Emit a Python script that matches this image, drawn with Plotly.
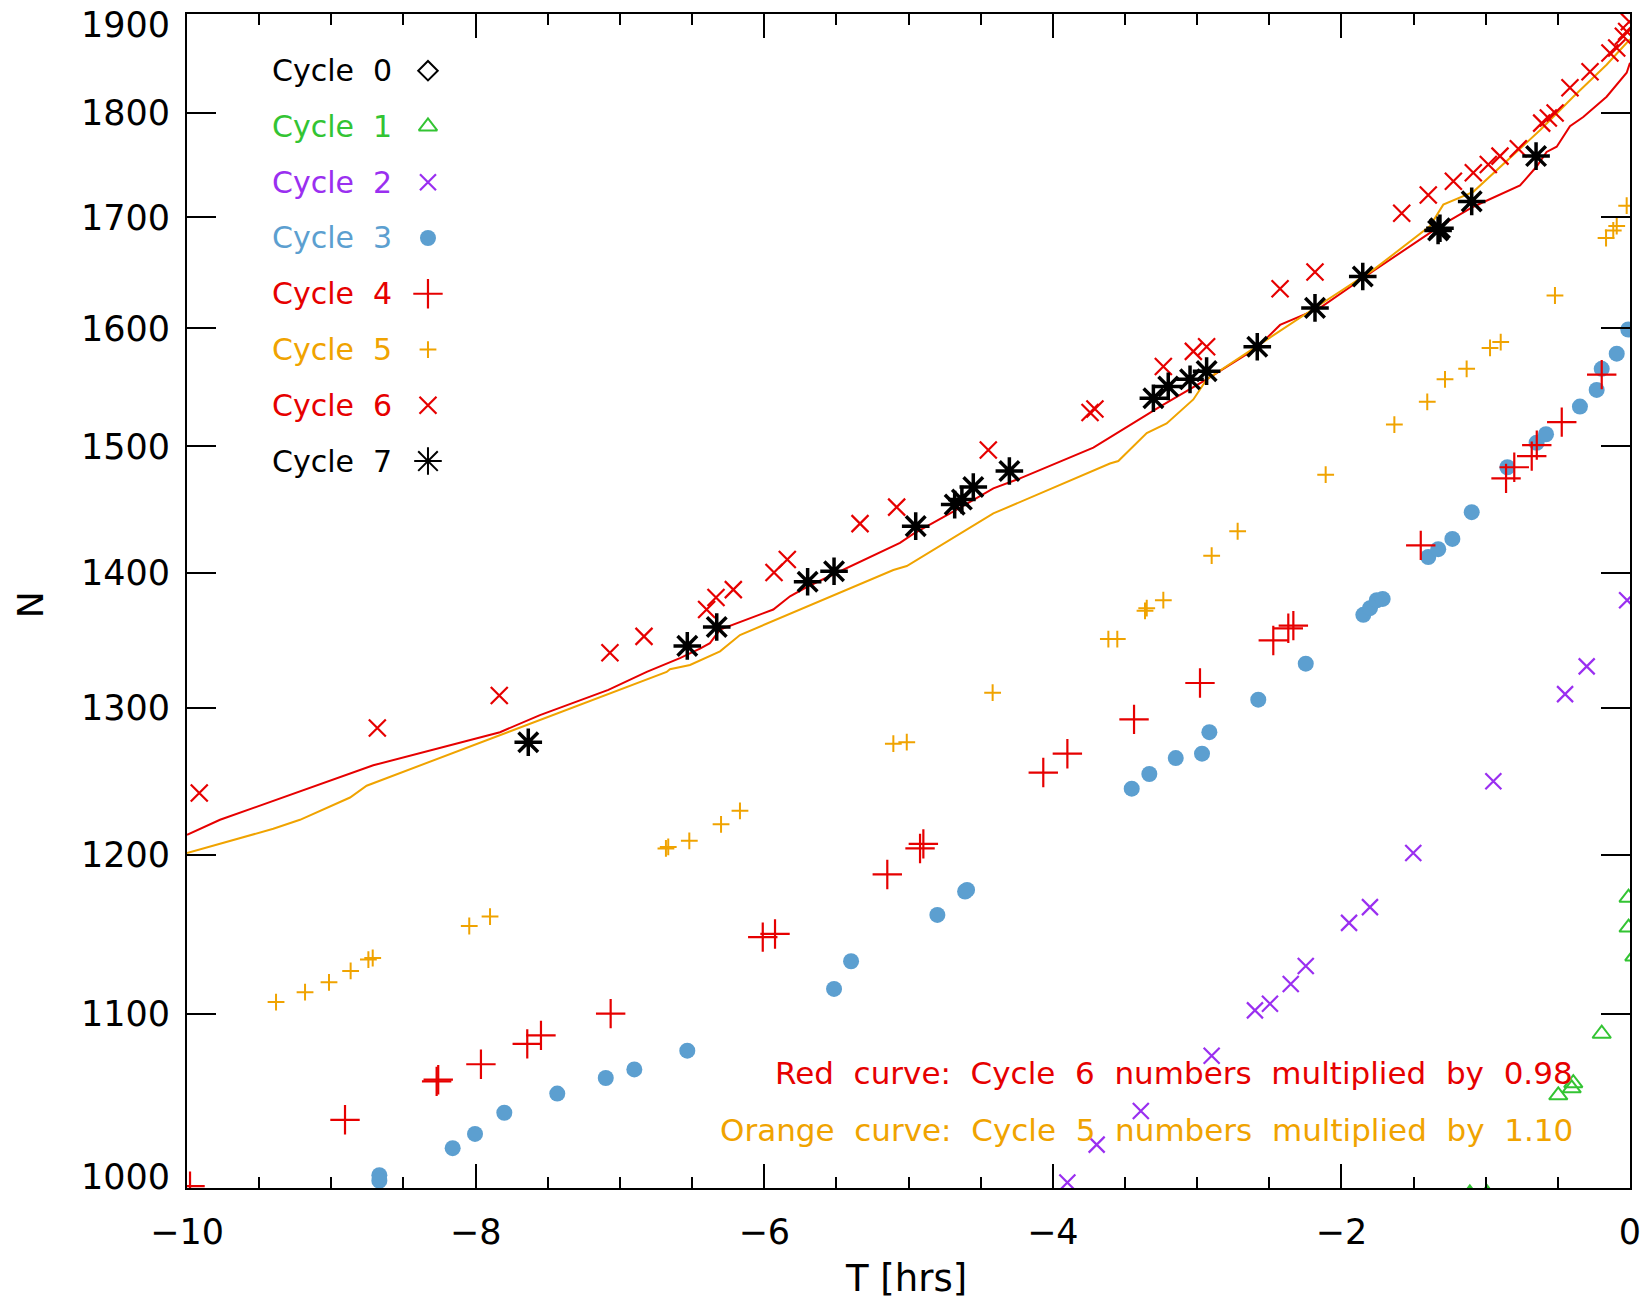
import plotly.graph_objects as go

# ---------------- data (T in hours, N) ----------------
cycle0_T = []
cycle0_N = []

cycle1_T = [-1.11, -0.99, -0.497, -0.404, -0.393, -0.196, -0.01, -0.01, 0.03]
cycle1_N = [997, 997, 1052, 1056, 1059, 1088, 1153, 1172, 1135]

cycle2_T = [-3.899, -3.696, -3.390, -2.899, -2.599, -2.495, -2.351, -2.247, -1.947,
            -1.802, -1.502, -0.947, -0.450, -0.300, -0.02]
cycle2_N = [1003, 1024, 1043, 1075, 1102, 1106, 1118, 1129, 1156,
            1166, 1201, 1249, 1310, 1330, 1379]

cycle3_T = [-8.667, -8.667, -8.159, -8.004, -7.801, -7.434, -7.098, -6.900, -6.533,
            -5.516, -5.398, -4.800, -4.608, -4.594, -3.453, -3.331, -3.148, -2.966,
            -2.915, -2.576, -2.247, -1.848, -1.802, -1.755, -1.714, -1.398, -1.329,
            -1.231, -1.097, -0.850, -0.647, -0.582, -0.347, -0.231, -0.196, -0.092, -0.012]
cycle3_N = [1007, 1004, 1022, 1030, 1042, 1053, 1062, 1067, 1078,
            1115, 1132, 1161, 1176, 1177, 1244, 1254, 1265, 1268,
            1283, 1306, 1332, 1368, 1373, 1379, 1380, 1412, 1418,
            1426, 1447, 1483, 1503, 1510, 1533, 1547, 1565, 1578, 1599]

cycle4_T = [-9.979, -8.905, -8.270, -8.259, -7.963, -7.642, -7.547, -7.064, -6.010,
            -5.925, -5.147, -4.920, -4.897, -4.066, -3.899, -3.437, -2.980, -2.472,
            -2.368, -2.333, -1.450, -0.859, -0.802, -0.681, -0.646, -0.473, -0.196]
cycle4_N = [1001, 1038, 1060, 1061, 1070, 1082, 1087, 1100, 1147,
            1149, 1187, 1204, 1207, 1255, 1268, 1292, 1318, 1349,
            1358, 1360, 1421, 1474, 1483, 1492, 1501, 1520, 1560]

cycle5_T = [-9.383, -9.182, -9.016, -8.866, -8.743, -8.713, -8.044, -7.900, -6.681,
            -6.665, -6.519, -6.299, -6.168, -5.105, -5.012, -4.417, -3.615, -3.553,
            -3.361, -3.349, -3.234, -2.899, -2.719, -2.109, -1.633, -1.405, -1.282,
            -1.132, -0.970, -0.896, -0.520, -0.166, -0.116, -0.092, -0.023]
cycle5_N = [1107, 1113, 1119, 1126, 1133, 1134, 1154, 1160, 1204,
            1205, 1209, 1220, 1229, 1275, 1276, 1311, 1350, 1350,
            1371, 1373, 1379, 1413, 1432, 1477, 1518, 1537, 1556,
            1565, 1583, 1588, 1629, 1681, 1688, 1692, 1711]

cycle6_T = [-9.915, -8.681, -7.836, -7.069, -6.833, -6.399, -6.334, -6.214, -5.932,
            -5.840, -5.336, -5.082, -4.447, -3.742, -3.708, -3.234, -3.026, -2.934,
            -2.425, -2.183, -1.582, -1.398, -1.224, -1.086, -0.982, -0.901, -0.774,
            -0.612, -0.566, -0.519, -0.416, -0.277, -0.139, -0.092, -0.046, -0.023, -0.005]
cycle6_N = [1241, 1286, 1309, 1340, 1352, 1372, 1381, 1387, 1400,
            1410, 1438, 1451, 1497, 1528, 1531, 1567, 1580, 1584,
            1635, 1650, 1704, 1721, 1734, 1742, 1750, 1758, 1765,
            1790, 1795, 1800, 1825, 1841, 1860, 1865, 1877, 1882, 1892]

cycle7_T = [-7.635, -6.533, -6.329, -5.699, -5.516, -4.950, -4.680, -4.630, -4.551,
            -4.301, -3.303, -3.200, -3.049, -2.934, -2.583, -2.183, -1.852, -1.330,
            -1.317, -1.097, -0.651]
cycle7_N = [1276, 1345, 1359, 1393, 1401, 1436, 1453, 1457, 1467,
            1480, 1540, 1550, 1556, 1563, 1584, 1618, 1646, 1688,
            1690, 1715, 1758]

red_curve_T = [-10.0, -9.771, -8.709, -7.831, -7.554, -7.080, -6.814, -6.584, -6.445,
               -6.376, -6.306, -5.937, -5.821, -5.705, -5.059, -4.967, -4.712, -4.412,
               -4.227, -3.719, -3.257, -2.934, -2.587, -2.425, -2.148, -1.779, -1.317,
               -1.086, -0.762, -0.647, -0.578, -0.508, -0.416, -0.324, -0.162, -0.023, 0.0]
red_curve_N = [1213, 1223, 1260, 1283, 1295, 1313, 1326, 1336, 1343,
               1347, 1357, 1372, 1382, 1389, 1423, 1430, 1446, 1466,
               1474, 1499, 1533, 1556, 1583, 1603, 1618, 1651, 1692,
               1710, 1730, 1748, 1762, 1767, 1787, 1796, 1816, 1840, 1850]

orange_curve_T = [-10.0, -9.402, -9.217, -8.870, -8.755, -7.046, -6.676, -6.653, -6.514,
                  -6.306, -6.168, -5.105, -5.012, -4.412, -3.604, -3.546, -3.349, -3.211,
                  -3.026, -2.934, -2.587, -2.171, -1.779, -1.386, -1.294, -1.178, -1.086,
                  -0.624, -0.393, -0.162, 0.0]
orange_curve_N = [1201, 1217, 1223, 1238, 1246, 1311, 1326, 1328, 1331,
                  1341, 1353, 1402, 1405, 1446, 1486, 1488, 1511, 1519,
                  1539, 1556, 1584, 1619, 1652, 1692, 1712, 1719, 1724,
                  1783, 1816, 1848, 1874]

legend_labels = ["Cycle 0", "Cycle 1", "Cycle 2", "Cycle 3",
                 "Cycle 4", "Cycle 5", "Cycle 6", "Cycle 7"]
y_tick_vals = [1000, 1100, 1200, 1300, 1400, 1500, 1600, 1700, 1800, 1900]
y_tick_text = ["1000", "1100", "1200", "1300", "1400", "1500", "1600", "1700", "1800", "1900"]
note_red = "Red curve: Cycle 6 numbers multiplied by 0.98"
note_orange = "Orange curve: Cycle 5 numbers multiplied by 1.10"

# ---------------- styles ----------------
RED = "#e60000"
ORANGE = "#f0a300"
BLUE = "#5c9fd0"
GREEN = "#33c433"
PURPLE = "#9a2ff0"
BLACK = "#000000"
FONT = "DejaVu Sans"
WIDE = "\u00a0\u00a0"  # wide word gap, as in the original lettering


def wide(s):
    return s.replace(" ", WIDE)


styles = [
    dict(symbol="diamond-open", size=15, color=BLACK, lw=2),
    dict(symbol="triangle-up-open", size=16, color=GREEN, lw=2),
    dict(symbol="x-thin-open", size=16, color=PURPLE, lw=2.2),
    dict(symbol="circle", size=16, color=BLUE, lw=0),
    dict(symbol="cross-thin-open", size=21, color=RED, lw=2.2),
    dict(symbol="cross-thin-open", size=12, color=ORANGE, lw=2),
    dict(symbol="x-thin-open", size=17, color=RED, lw=2.2),
    dict(symbol="asterisk-open", size=23, color=BLACK, lw=3.5),
]
series = [(cycle0_T, cycle0_N), (cycle1_T, cycle1_N), (cycle2_T, cycle2_N),
          (cycle3_T, cycle3_N), (cycle4_T, cycle4_N), (cycle5_T, cycle5_N),
          (cycle6_T, cycle6_N), (cycle7_T, cycle7_N)]


def marker_of(st, lw=None):
    w = st["lw"] if lw is None else lw
    return dict(symbol=st["symbol"], size=st["size"], color=st["color"],
                line=dict(width=w, color=st["color"]))


fig = go.Figure()

# curves
fig.add_trace(go.Scatter(x=red_curve_T, y=red_curve_N, mode="lines",
                         line=dict(color=RED, width=2), showlegend=False, hoverinfo="skip"))
fig.add_trace(go.Scatter(x=orange_curve_T, y=orange_curve_N, mode="lines",
                         line=dict(color=ORANGE, width=2), showlegend=False, hoverinfo="skip"))

# data points
for (tx, ny), st, name in zip(series, styles, legend_labels):
    fig.add_trace(go.Scatter(x=tx, y=ny, mode="markers", name=name,
                             marker=marker_of(st), showlegend=False))

# custom legend: text then symbol (on an invisible 0..1 overlay axis)
leg_x_text = 0.0575
leg_x_sym = 0.167
leg_y0 = 0.9517
leg_dy = 0.0475
annotations = []
for i, (name, st) in enumerate(zip(legend_labels, styles)):
    yy = leg_y0 - i * leg_dy
    annotations.append(dict(x=leg_x_text, y=yy, xref="paper", yref="paper",
                            text=wide(name), showarrow=False, xanchor="left", yanchor="middle",
                            font=dict(family=FONT, size=30, color=st["color"])))
    lw = 2 if st["symbol"] == "asterisk-open" else None
    fig.add_trace(go.Scatter(x=[leg_x_sym], y=[yy], mode="markers", xaxis="x2", yaxis="y2",
                             marker=marker_of(st, lw), showlegend=False, hoverinfo="skip"))

# edge y tick labels are nudged inside the axis span (as in the original)
y_text_axis = [""] + y_tick_text[1:-1] + [""]
annotations.append(dict(x=-0.0105, y=0.0094, xref="paper", yref="paper", text=y_tick_text[0],
                        showarrow=False, xanchor="right", yanchor="middle",
                        font=dict(family=FONT, size=35, color=BLACK)))
annotations.append(dict(x=-0.0105, y=0.9906, xref="paper", yref="paper", text=y_tick_text[-1],
                        showarrow=False, xanchor="right", yanchor="middle",
                        font=dict(family=FONT, size=35, color=BLACK)))

# notes
annotations.append(dict(x=0.962, y=0.098, xref="paper", yref="paper", text=wide(note_red),
                        showarrow=False, xanchor="right", yanchor="middle",
                        font=dict(family=FONT, size=31, color=RED)))
annotations.append(dict(x=0.962, y=0.0494, xref="paper", yref="paper", text=wide(note_orange),
                        showarrow=False, xanchor="right", yanchor="middle",
                        font=dict(family=FONT, size=31, color=ORANGE)))
# axis titles
annotations.append(dict(x=0.498, y=-0.0767, xref="paper", yref="paper", text="T [hrs]",
                        showarrow=False, xanchor="center", yanchor="middle",
                        font=dict(family=FONT, size=37, color=BLACK)))
annotations.append(dict(x=-0.108, y=0.4966, xref="paper", yref="paper", text="N",
                        showarrow=False, xanchor="center", yanchor="middle", textangle=-90,
                        font=dict(family=FONT, size=36, color=BLACK)))

fig.update_layout(
    width=1642, height=1300,
    margin=dict(l=187, r=12, t=14, b=112, pad=0, autoexpand=False),
    paper_bgcolor="white", plot_bgcolor="white",
    showlegend=False,
    font=dict(family=FONT, size=35, color=BLACK),
    annotations=annotations,
    xaxis=dict(range=[-10, 0], dtick=2, tick0=0, ticks="inside", ticklen=24, tickwidth=2,
               tickcolor=BLACK, showline=True, linewidth=2, linecolor=BLACK, mirror="ticks",
               showgrid=False, zeroline=False, ticklabelstandoff=12, ticklabeloverflow="allow",
               automargin=False,
               tickfont=dict(family=FONT, size=35, color=BLACK),
               minor=dict(dtick=0.5, ticks="inside", ticklen=11, tickwidth=2,
                          tickcolor=BLACK, showgrid=False)),
    yaxis=dict(type="log", range=[3, 3.27876], tickvals=y_tick_vals, ticktext=y_text_axis,
               ticks="inside", ticklen=29, tickwidth=2, tickcolor=BLACK, showline=True,
               linewidth=2, linecolor=BLACK, mirror="ticks", showgrid=False, zeroline=False,
               ticklabelstandoff=8, ticklabeloverflow="allow", automargin=False,
               tickfont=dict(family=FONT, size=35, color=BLACK)),
    xaxis2=dict(overlaying="x", anchor="y2", range=[0, 1], visible=False),
    yaxis2=dict(overlaying="y", anchor="x2", range=[0, 1], visible=False),
)

fig.write_html("out.html", config={"displayModeBar": False},
               post_script="document.body.style.margin='0px';document.body.style.overflow='hidden';")
